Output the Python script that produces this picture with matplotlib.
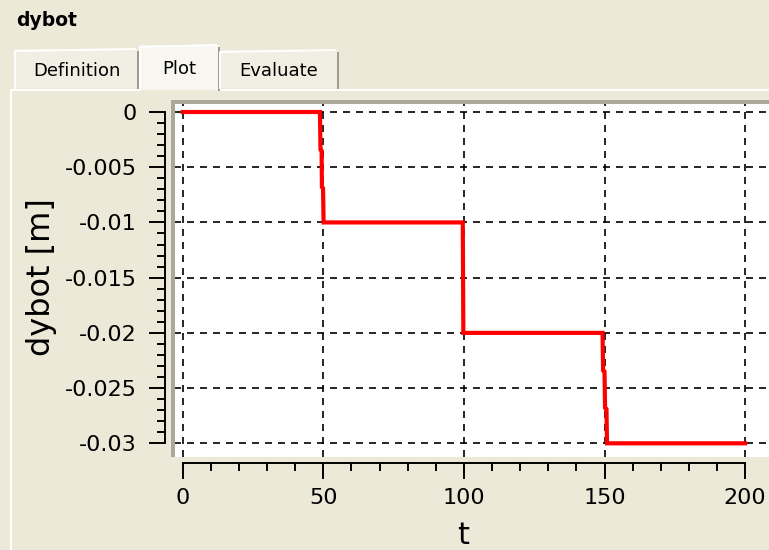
import matplotlib.pyplot as plt
from matplotlib.patches import Rectangle
from matplotlib.lines import Line2D
from matplotlib.ticker import FixedLocator

# step response
t_vals = [0, 48.8, 49.0, 49.4, 49.5, 49.9, 50.1, 99.6, 99.8,
          149.3, 149.5, 150.0, 150.2, 150.7, 150.9, 200]
dybot_vals = [0, 0, -0.0034, -0.0035, -0.0068, -0.0069, -0.01, -0.01, -0.02,
              -0.02, -0.0234, -0.0235, -0.0268, -0.0269, -0.03, -0.03]

x_ticks = [0, 50, 100, 150, 200]
x_labels = ['0', '50', '100', '150', '200']
y_ticks = [0, -0.005, -0.01, -0.015, -0.02, -0.025, -0.03]
y_labels = ['0', '-0.005', '-0.01', '-0.015', '-0.02', '-0.025', '-0.03']
x_minor = [10 * i for i in range(21)]
y_minor = [-0.001 * i for i in range(31)]

tab_names = ['Definition', 'Plot', 'Evaluate']

W, H = 769, 550
BG = '#ECE9D8'


def fx(px):
    return px / W


def fy(py):
    return 1 - py / H


fig = plt.figure(figsize=(W / 100, H / 100), dpi=100, facecolor=BG)


def prect(x0, y0, x1, y1, color, z=1):
    fig.patches.append(Rectangle((fx(x0), fy(y1)), fx(x1) - fx(x0), fy(y0) - fy(y1),
                                 transform=fig.transFigure, facecolor=color,
                                 edgecolor='none', zorder=z))


def pline(xs, ys, color, lw=1.0, z=2):
    fig.lines.append(Line2D([fx(x) for x in xs], [fy(y) for y in ys],
                            transform=fig.transFigure, color=color, lw=lw, zorder=z))


# window title
fig.text(fx(16), fy(20), 'dybot', fontsize=13.5, fontweight='bold', ha='left', va='center')

# panel border
pline([11, 11], [90, 550], 'white', lw=1.4)
pline([11, 140], [89.5, 89.5], 'white', lw=1.4)
pline([219, 769], [89.5, 89.5], 'white', lw=1.4)

# tabs
tabs = [(15, 138, 49, 88, '#F1EFE4'), (140, 219, 45, 90, '#F7F6F0'), (220, 338, 50, 88, '#F1EFE4')]
for (x0, x1, y0, y1, face), name in zip(tabs, tab_names):
    prect(x0, y0, x1, y1, face, z=1)
    pline([x0, x0, x1 - 3], [y1, y0 + 2, y0], 'white', lw=1.4)
    pline([x1, x1], [y0 + 3, y1], '#9A9A90', lw=1.4)
    fig.text(fx((x0 + x1) / 2), fy((y0 + y1) / 2 + 2), name, fontsize=13,
             ha='center', va='center', zorder=3)

# sunken frame around plot area
prect(170.5, 100, 174.5, 457, '#ACA899', z=1)
prect(170.5, 100, 769, 103.5, '#ACA899', z=1)

ax = fig.add_axes([fx(174), fy(457), fx(769) - fx(174), fy(103) - fy(457)])
ax.set_facecolor('white')

ax.plot(t_vals, dybot_vals, color='#FF0000', lw=3.0, solid_joinstyle='miter', zorder=3)

ax.set_xlim(-3.1, 208.5)
ax.set_ylim(-0.03124, 0.000815)

ax.set_xticks(x_ticks, labels=x_labels)
ax.set_yticks(y_ticks, labels=y_labels)
ax.xaxis.set_minor_locator(FixedLocator(x_minor))
ax.yaxis.set_minor_locator(FixedLocator(y_minor))

ax.grid(True, which='major', color='black', lw=1.2, linestyle=(0, (4.2, 3.6)))
ax.set_axisbelow(True)

for s in ['top', 'right']:
    ax.spines[s].set_visible(False)
ax.spines['left'].set_position(('outward', 6.5))
ax.spines['bottom'].set_position(('outward', 4.3))
ax.spines['left'].set_bounds(-0.03, 0)
ax.spines['bottom'].set_bounds(0, 200)
for s in ['left', 'bottom']:
    ax.spines[s].set_linewidth(1.4)

ax.tick_params(which='major', direction='out', length=11.5, width=1.4, labelsize=16)
ax.tick_params(which='minor', direction='out', length=5.8, width=1.4)
ax.tick_params(axis='y', which='major', pad=8.6)
ax.tick_params(axis='x', which='major', pad=6.5)

ax.set_ylabel('dybot [m]', fontsize=23, va='center')
ax.yaxis.set_label_coords((42 - 174) / 595, (457 - 277) / 354)
ax.set_xlabel('t', fontsize=22, va='center')
ax.xaxis.set_label_coords((463 - 174) / 595, (457 - 535) / 354)

fig.savefig('out.png', dpi=100, facecolor=BG)
